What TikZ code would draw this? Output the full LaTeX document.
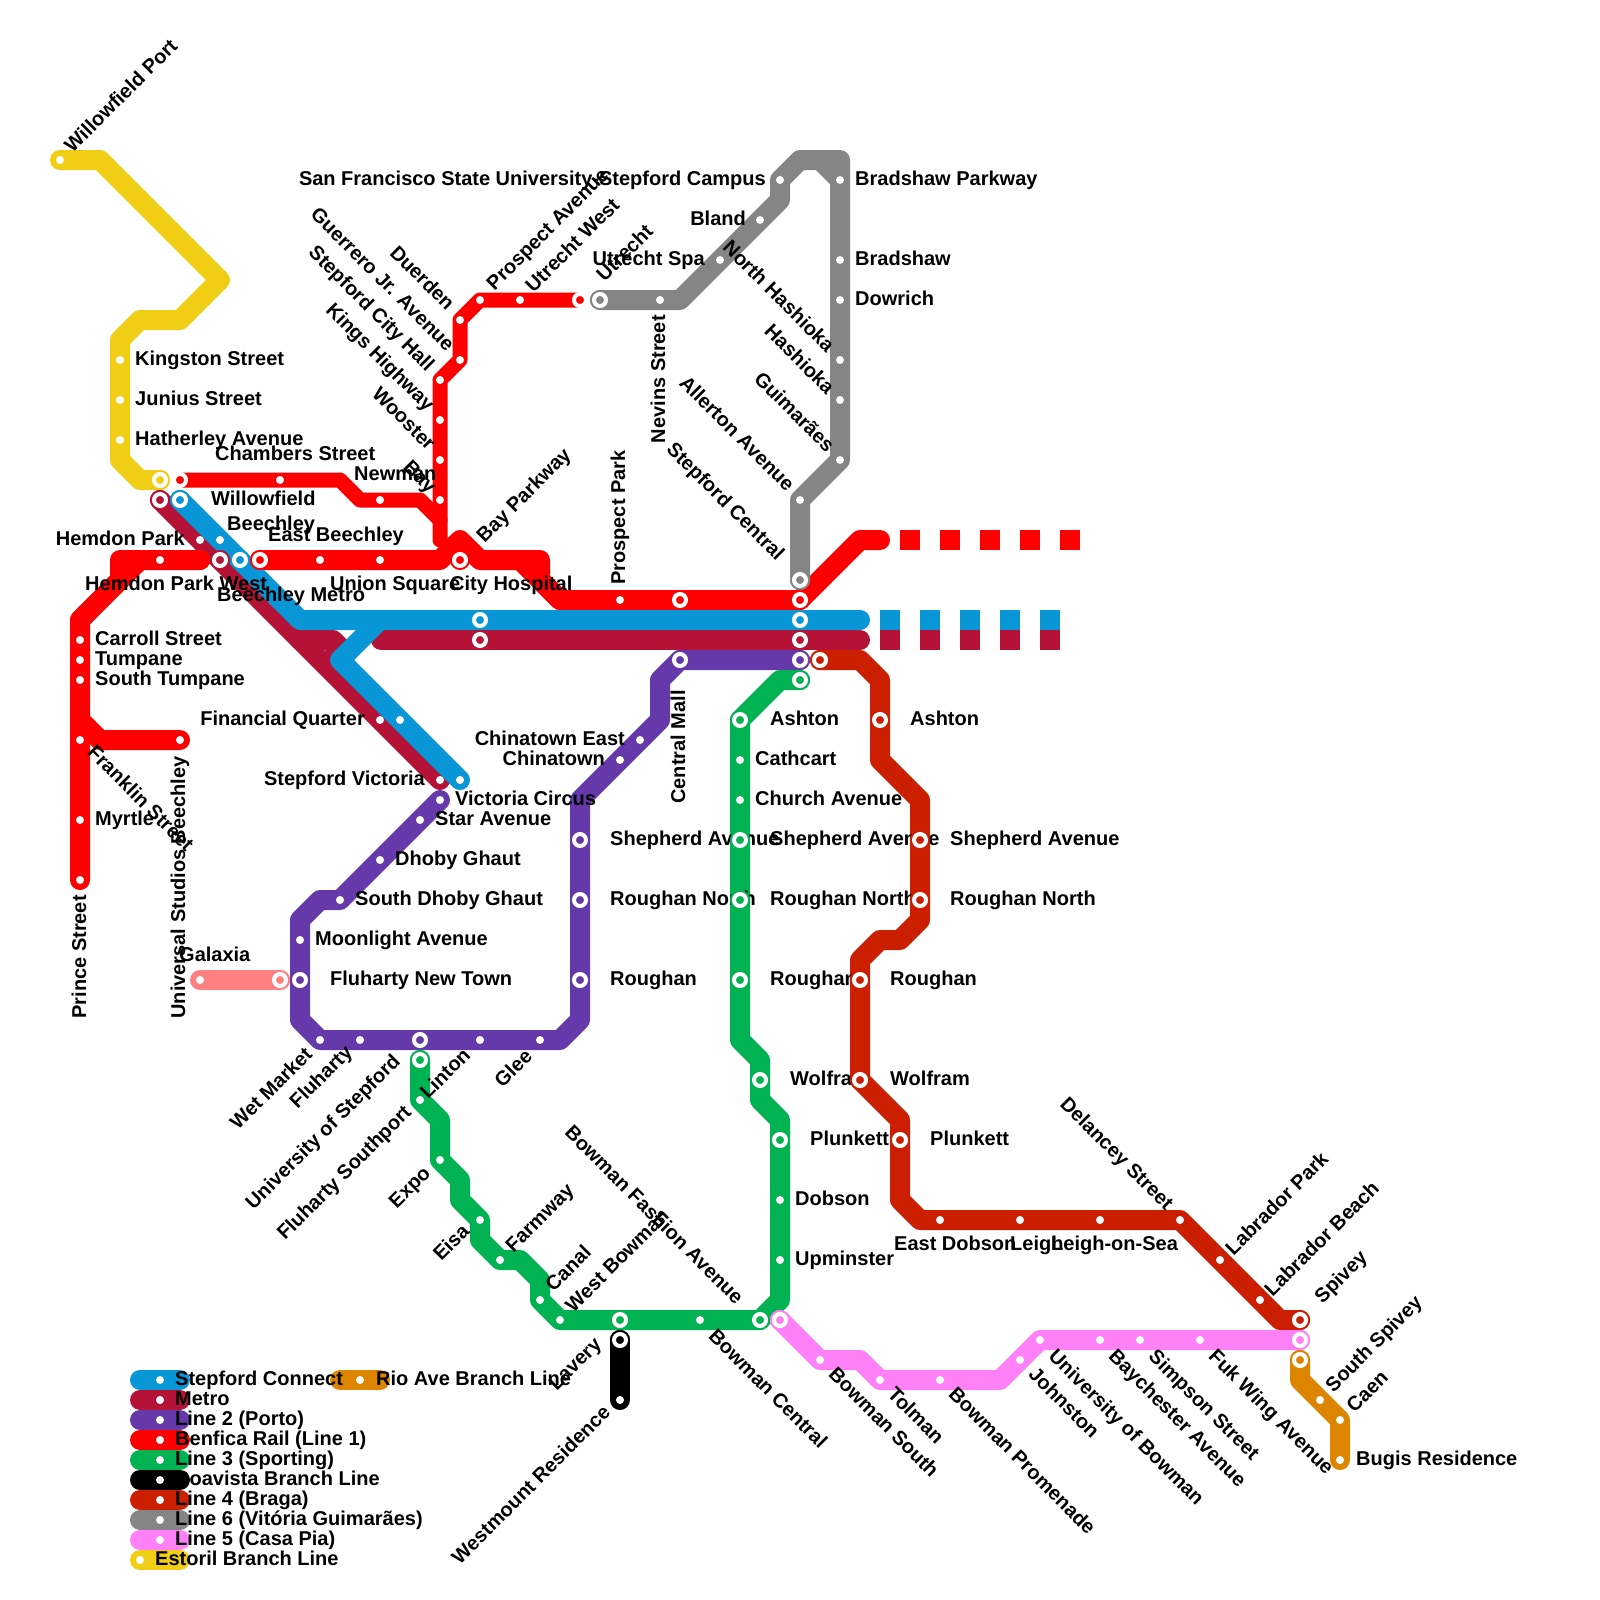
\documentclass[tikz,border=0pt]{standalone}
\usepackage{fontspec}
\setmainfont{Liberation Sans}
\usepackage{xcolor}
\usetikzlibrary{backgrounds}
\definecolor{railyellow}{HTML}{F0CE15}
\definecolor{railred}{HTML}{FF0000}
\definecolor{railblue}{HTML}{0896D7}
\definecolor{railmetro}{HTML}{B51237}
\definecolor{railpurple}{HTML}{6639AB}
\definecolor{railgreen}{HTML}{00B251}
\definecolor{railbraga}{HTML}{CC1E00}
\definecolor{railgrey}{HTML}{858585}
\definecolor{railpink}{HTML}{FF80F7}
\definecolor{railorange}{HTML}{DE8500}
\definecolor{railsalmon}{HTML}{FF8080}

\begin{document}
\begin{tikzpicture}[x=1pt,y=-1pt,
    rail/.style={line width=20,line join=round,line cap=round,draw=#1},
    thinrail/.style={line width=15,line join=round,line cap=round,draw=#1},
    gaps/.style={line width=20,draw=#1,dash pattern=on 20pt off 20pt},
    stn/.style={circle,fill=white,minimum size=8,inner sep=0,outer sep=0},
    ringb/.style={circle,fill=#1,draw=white,line width=4,minimum size=12,inner sep=0,outer sep=0,
      preaction={draw=#1,line width=8}},
    ryellow/.style={ringb=railyellow},
    rred/.style={ringb=railred},
    rredthin/.style={circle,fill=railred,draw=white,line width=4,minimum size=12,inner sep=0,outer sep=0},
    rblue/.style={ringb=railblue},
    rmetro/.style={ringb=railmetro},
    rpurple/.style={ringb=railpurple},
    rgreen/.style={ringb=railgreen},
    rblack/.style={ringb=black},
    rbraga/.style={ringb=railbraga},
    rgrey/.style={ringb=railgrey},
    rpink/.style={ringb=railpink},
    rorange/.style={ringb=railorange},
    rsalmon/.style={ringb=railsalmon},
    lbl/.style={font=\bfseries\fontsize{20}{20}\selectfont,text=black,inner sep=0,text height=14,text depth=4}]
  \useasboundingbox (0,0) rectangle (1600,1600);

  % stations
  \foreach \nm/\sx/\sy/\kind in {
    willowfieldport/60/160/stn, kingston/120/360/stn, junius/120/400/stn, hatherley/120/440/stn, estorilend/160/480/ryellow,
    chambersend/180/480/rredthin, chambers/280/480/stn, newman/380/500/stn,
    utrechtend/580/300/rredthin, utrechtwest/520/300/stn, prospectave/480/300/stn, duerden/460/320/stn, guerrero/460/360/stn,
    cityhall/440/380/stn, kingshwy/440/420/stn, wooster/440/460/stn, bay/440/500/stn,
    universal/180/740/stn, prince/80/880/stn, myrtle/80/820/stn, franklin/80/740/stn, stumpane/80/680/stn, tumpane/80/660/stn, carroll/80/640/stn,
    hemdonwest/160/560/stn, eastbeechley/260/560/rred, redone/320/560/stn, union/380/560/stn, cityhosp/460/560/rred,
    prospectpk/620/600/stn, redtwo/680/600/rred, redthree/800/600/rred,
    blueend/180/500/rblue, beechley/220/540/stn, beechleymetro/240/560/rblue, bluetwo/480/620/rblue, bluethree/800/620/rblue,
    financialb/400/720/stn, circus/460/780/stn,
    metroend/160/500/rmetro, hemdonpk/200/540/stn, metrotwo/220/560/rmetro, financial/380/720/stn, victoria/440/780/stn,
    metrothree/480/640/rmetro, metrofour/800/640/rmetro,
    star/440/800/stn, starb/420/820/stn, dhoby/380/860/stn, sdhoby/340/900/stn, moonlight/300/940/stn, newtown/300/980/rpurple,
    wetmarket/320/1040/stn, fluharty/360/1040/stn, unistepford/420/1040/rpurple, linton/480/1040/stn, glee/540/1040/stn,
    roughanp/580/980/rpurple, northp/580/900/rpurple, shepherdp/580/840/rpurple, chinatown/620/760/stn, chinaeast/640/740/stn,
    central/680/660/rpurple, purpleend/800/660/rpurple,
    greentop/800/680/rgreen, ashtong/740/720/rgreen, cathcart/740/760/stn, church/740/800/stn, shepherdg/740/840/rgreen, northg/740/900/rgreen,
    roughang/740/980/rgreen, wolframg/760/1080/rgreen, plunkettg/780/1140/rgreen, dobson/780/1200/stn, upminster/780/1260/stn,
    fashion/760/1320/rgreen, bowmanc/700/1320/stn, lavery/620/1320/rgreen, westbowman/560/1320/stn, canal/540/1300/stn, farmway/500/1260/stn,
    eisa/480/1220/stn, expo/440/1160/stn, southport/420/1100/stn, greenend/420/1060/rgreen,
    blacktop/620/1340/rblack, westmount/620/1400/stn,
    bragaend/820/660/rbraga, ashtonb/880/720/rbraga, shepherdb/920/840/rbraga, northb/920/900/rbraga, roughanb/860/980/rbraga,
    wolframb/860/1080/rbraga, plunkettb/900/1140/rbraga, eastdobson/940/1220/stn, leigh/1020/1220/stn, leighsea/1100/1220/stn,
    delancey/1180/1220/stn, labpark/1220/1260/stn, labbeach/1260/1300/stn, spivey/1300/1320/rbraga,
    utrecht/600/300/rgrey, nevins/660/300/stn, utrechtspa/720/260/stn, bland/760/220/stn, campus/780/180/stn,
    parkway/840/180/stn, bradshaw/840/260/stn, dowrich/840/300/stn, northhash/840/360/stn, hashioka/840/400/stn, guimaraes/840/460/stn,
    allerton/800/500/stn, stepcentral/800/580/rgrey,
    bowmansouth/820/1360/stn, tolman/880/1380/stn, promenade/940/1380/stn, johnston/1020/1360/stn, unibowman/1040/1340/stn,
    baychester/1100/1340/stn, simpson/1140/1340/stn, fukwing/1200/1340/stn, pinkstart/780/1320/rpink, pinkend/1300/1340/rpink,
    southspivey/1300/1360/rorange, caen/1320/1400/stn, orangemid/1340/1420/stn, bugis/1340/1460/stn,
    galaxia/200/980/stn, galaxiaend/280/980/rsalmon}
    \node[\kind] (\nm) at (\sx,\sy) {};

  % lines and labels sit under the stations
  \begin{scope}[on background layer]
    \draw[rail=railyellow] (willowfieldport.center) -- (100,160) -- (220,280) -- (180,320) -- (140,320) -- (120,340) -- (120,460) -- (140,480) -- (estorilend.center);
    \draw[rail=railmetro] (metroend.center) -- (victoria.center);
    \draw[rail=railmetro] (300,640) -- (333,640) -- (342,649) -- (330,660);
    \draw[rail=railmetro] (381,640) -- (860,640);
    \draw[thinrail=railred] (chambersend.center) -- (340,480) -- (360,500) -- (420,500) -- (440,520);
    \draw[thinrail=railred] (utrechtend.center) -- (prospectave.center) -- (duerden.center) -- (guerrero.center) -- (cityhall.center) -- (440,540);
    \draw[rail=railred] (hemdonwest.center) -- (200,560);
    \draw[rail=railred] (200,560) -- (120,560) -- (120,580) -- (80,620) -- (prince.center);
    \draw[rail=railred] (140,560) -- (80,620);
    \draw[rail=railred] (franklin.center) -- (80,720) -- (100,740) -- (universal.center);
    \draw[rail=railred] (eastbeechley.center) -- (440,560) -- (460,540) -- (480,560) -- (540,560) -- (540,580) -- (560,600) -- (redthree.center) -- (860,540) -- (880,540);
    \draw[rail=railred] (520,560) -- (560,600);
    \draw[rail=railblue] (blueend.center) -- (300,620) -- (860,620);
    \draw[rail=railblue] (380,620) -- (340,660) -- (circus.center);
    \draw[rail=railpurple] (star.center) -- (340,900) -- (320,900) -- (300,920) -- (300,1020) -- (320,1040) -- (560,1040) -- (580,1020) -- (580,800) -- (660,720) -- (660,680) -- (central.center) -- (purpleend.center);
    \draw[rail=railgreen] (greentop.center) -- (780,680) -- (740,720) -- (740,1040) -- (760,1060) -- (760,1100) -- (780,1120) -- (780,1300) -- (760,1320) -- (560,1320) -- (540,1300) -- (540,1280) -- (520,1260) -- (500,1260) -- (480,1240) -- (480,1220) -- (460,1200) -- (460,1180) -- (440,1160) -- (440,1120) -- (420,1100) -- (greenend.center);
    \draw[rail=black] (blacktop.center) -- (westmount.center);
    \draw[rail=railbraga] (bragaend.center) -- (860,660) -- (880,680) -- (880,760) -- (920,800) -- (920,920) -- (900,940) -- (880,940) -- (860,960) -- (860,1080) -- (900,1120) -- (900,1200) -- (920,1220) -- (1180,1220) -- (1280,1320) -- (spivey.center);
    \draw[rail=railgrey] (utrecht.center) -- (680,300) -- (780,200) -- (780,180) -- (800,160) -- (840,160) -- (840,460) -- (800,500) -- (stepcentral.center);
    \draw[rail=railgrey] (820,160) -- (840,180);
    \draw[rail=railpink] (pinkstart.center) -- (820,1360) -- (860,1360) -- (880,1380) -- (1000,1380) -- (1040,1340) -- (pinkend.center);
    \draw[rail=railorange] (southspivey.center) -- (1300,1380) -- (1340,1420) -- (bugis.center);
    \draw[rail=railsalmon] (galaxia.center) -- (galaxiaend.center);
    \draw[gaps=railred] (900,540) -- (1080,540);
    \draw[gaps=railblue] (880,620) -- (1060,620);
    \draw[gaps=railmetro] (880,640) -- (1060,640);
    \draw[rail=railorange] (340,1380) -- (380,1380);

    \foreach \lx/\ly/\txt [count=\i] in {
      135/360/Kingston Street, 135/400/Junius Street, 135/440/Hatherley Avenue, 215/455/Chambers Street, 354/475/Newman,
      211/500/Willowfield, 227/525/Beechley, 268/536/East Beechley, 85/585/Hemdon Park West, 217/596/Beechley Metro,
      330/585/Union Square, 450/585/City Hospital, 95/640/Carroll Street, 95/660/Tumpane, 95/680/South Tumpane, 95/820/Myrtle,
      455/800/Victoria Circus, 435/820/Star Avenue, 395/860/Dhoby Ghaut, 355/900/South Dhoby Ghaut, 315/940/Moonlight Avenue,
      330/980/Fluharty New Town, 179/956/Galaxia,
      610/840/Shepherd Avenue, 610/900/Roughan North, 610/980/Roughan,
      770/720/Ashton, 755/760/Cathcart, 755/800/Church Avenue, 770/840/Shepherd Avenue, 770/900/Roughan North, 770/980/Roughan,
      790/1080/Wolfram, 810/1140/Plunkett, 795/1200/Dobson, 795/1260/Upminster,
      910/720/Ashton, 950/840/Shepherd Avenue, 950/900/Roughan North, 890/980/Roughan, 890/1080/Wolfram, 930/1140/Plunkett,
      894/1245/East Dobson, 1010/1245/Leigh, 1051/1245/Leigh-on-Sea,
      855/180/Bradshaw Parkway, 855/260/Bradshaw, 855/300/Dowrich, 1356/1460/Bugis Residence}
      \node[lbl,anchor=west] (lr\i) at (\lx,\ly) {\txt};
    \foreach \lx/\ly/\txt [count=\i] in {
      766/180/San Francisco State University-Stepford Campus, 746/220/Bland, 705/260/Utrecht Spa,
      185/540/Hemdon Park, 365/720/Financial Quarter, 425/780/Stepford Victoria,
      625/740/Chinatown East, 605/760/Chinatown}
      \node[lbl,anchor=east] (ll\i) at (\lx,\ly) {\txt};
    \foreach \lx/\ly/\txt [count=\i] in {
      69/150/Willowfield Port, 491/288/Prospect Avenue, 530/290/Utrecht West, 601/279/Utrecht, 481/540/Bay Parkway,
      510/1250/Farmway, 550/1289/Canal, 570/1310/West Bowman,
      1230/1253/Labrador Park, 1269/1294/Labrador Beach, 1319/1301/Spivey, 1330/1390/South Spivey, 1351/1410/Caen}
      \node[lbl,anchor=west,rotate=45] (lu\i) at (\lx,\ly) {\txt};
    \foreach \lx/\ly/\txt [count=\i] in {
      310/1052/Wet Market, 350/1050/Fluharty, 398/1059/University of Stepford, 468/1053/Linton, 530/1054/Glee,
      409/1110/Fluharty Southport, 428/1171/Expo, 467/1229/Eisa, 599/1342/Lavery, 608/1410/Westmount Residence}
      \node[lbl,anchor=east,rotate=45] (lv\i) at (\lx,\ly) {\txt};
    \foreach \lx/\ly/\txt [count=\i] in {
      90/750/Franklin Street, 711/1334/Bowman Central, 831/1372/Bowman South, 890/1392/Tolman, 951/1392/Bowman Promenade,
      1031/1372/Johnston, 1051/1354/University of Bowman, 1111/1354/Baychester Avenue, 1151/1354/Simpson Street, 1211/1354/Fuk Wing Avenue}
      \node[lbl,anchor=west,rotate=-45] (ld\i) at (\lx,\ly) {\txt};
    \foreach \lx/\ly/\txt [count=\i] in {
      432/491/Bay, 431/448/Wooster, 430/409/Kings Highway, 430/369/Stepford City Hall, 450/349/Guerrero Jr. Avenue, 450/308/Duerden,
      830/350/North Hashioka, 830/392/Hashioka, 830/450/Guimarães, 790/489/Allerton Avenue, 780/558/Stepford Central,
      739/1302/Bowman Fashion Avenue, 1169/1208/Delancey Street}
      \node[lbl,anchor=east,rotate=-45] (le\i) at (\lx,\ly) {\txt};
    \node[lbl,anchor=west,rotate=90] (lpark) at (620,585) {Prospect Park};
    \foreach \lx/\ly/\txt [count=\i] in {
      660/315/Nevins Street, 680/690/Central Mall, 81/895/Prince Street, 180/756/Universal Studios Beechley}
      \node[lbl,anchor=east,rotate=90] (lq\i) at (\lx,\ly) {\txt};
  \end{scope}

  % key
  \foreach \kc/\ky/\kx/\ktx/\ktxt [count=\i] in {
    railblue/1380/160/175/Stepford Connect, railmetro/1400/160/175/Metro, railpurple/1420/160/175/Line 2 (Porto),
    railred/1440/160/175/Benfica Rail (Line 1), railgreen/1460/160/175/Line 3 (Sporting), black/1480/160/175/Boavista Branch Line,
    railbraga/1500/160/175/Line 4 (Braga), railgrey/1520/160/175/Line 6 (Vitória Guimarães), railpink/1540/160/175/Line 5 (Casa Pia),
    railyellow/1560/140/155/Estoril Branch Line}
  {
    \node[stn] (kd\i) at (\kx,\ky) {};
    \begin{scope}[on background layer]
      \draw[rail=\kc] (140,\ky) -- (180,\ky);
      \node[lbl,anchor=west] (kt\i) at (\ktx,\ky) {\ktxt};
    \end{scope}
  }
  \node[stn] (kdrio) at (360,1380) {};
  \begin{scope}[on background layer]
    \node[lbl,anchor=west] (ktrio) at (376,1380) {Rio Ave Branch Line};
  \end{scope}
\end{tikzpicture}
\end{document}
